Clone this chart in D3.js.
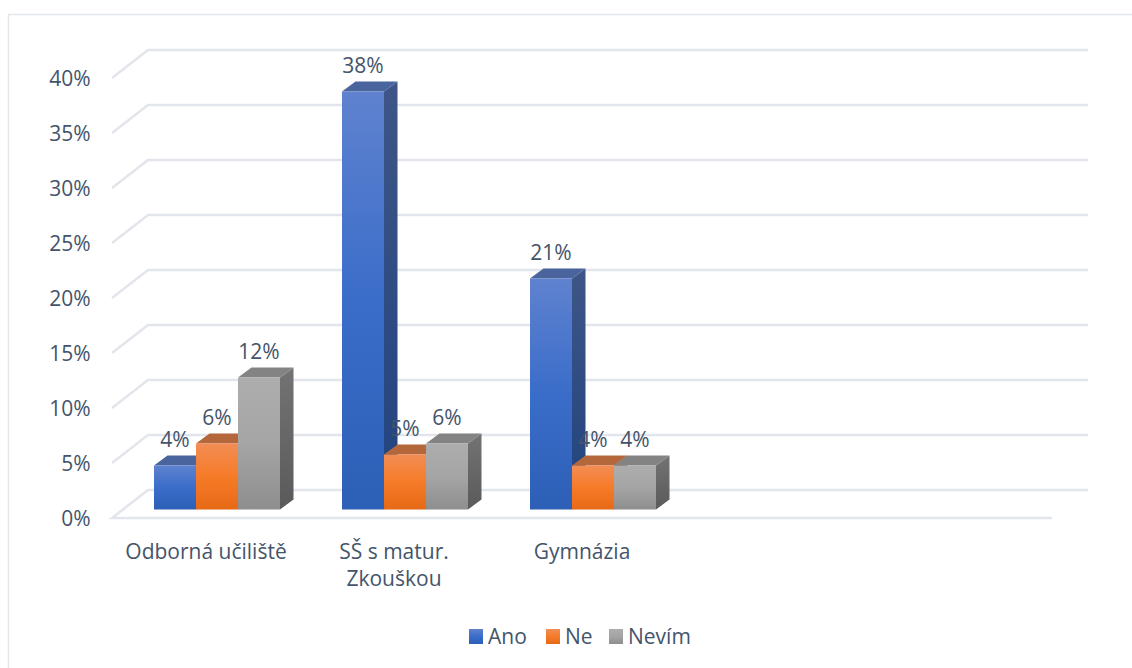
<!DOCTYPE html>
<html><head><meta charset="utf-8">
<script src="https://cdn.jsdelivr.net/npm/d3@7/dist/d3.min.js"></script>
<style>html,body{margin:0;padding:0;background:#fff}svg{display:block}text{font-family:"Open Sans",sans-serif;fill:#44546a}</style>
</head><body><div id="c"></div>
<script>
const categories = ["Odborná učiliště", "SŠ s matur. Zkouškou", "Gymnázia", "(prázdné 1)", "(prázdné 2)"];
const categoryLines = [["Odborná učiliště"], ["SŠ s matur.", "Zkouškou"], ["Gymnázia"], [], []];
const seriesNames = ["Ano", "Ne", "Nevím"];
const ano = [4, 38, 21];
const ne = [6, 5, 4];
const nevim = [12, 6, 4];
const yTicks = [0, 5, 10, 15, 20, 25, 30, 35, 40];

const W = 1132, H = 668;
const FS = "21px";
const svg = d3.select("#c").append("svg").attr("width", W).attr("height", H);
const defs = svg.append("defs");

const palettes = [
  {front:["#5f82cf","#3a6dc9","#2d5fb6"], side:["#3e5687","#20437f"], top:"#4a649e"},
  {front:["#f28d55","#f67b28","#e66a16"], side:["#8a5030","#8a5030"], top:"#b5673c"},
  {front:["#adadad","#a5a5a5","#8e8e8e"], side:["#737373","#5a5a5a"], top:"#838383"}
];
palettes.forEach((p,i)=>{
  const f = defs.append("linearGradient").attr("id","f"+i).attr("x1",0).attr("x2",0).attr("y1",0).attr("y2",1);
  p.front.forEach((c,k)=>f.append("stop").attr("offset",k/2).attr("stop-color",c));
  const s = defs.append("linearGradient").attr("id","s"+i).attr("x1",0).attr("x2",0).attr("y1",0).attr("y2",1);
  p.side.forEach((c,k)=>s.append("stop").attr("offset",k).attr("stop-color",c));
});

// frame
svg.append("path").attr("d",`M8.5,${H} V14.5 H${W}`).attr("fill","none").attr("stroke","#e3e6ec").attr("stroke-width",1.5);

const x = d3.scaleBand().domain(categories).range([112,1052]);
const y = d3.scaleLinear().domain([0,40]).range([518,78]);
const backDx = 36, backDy = -28;      // floor depth
const floorDx = 11, floorDy = -8.5;   // bars' front plane inside the floor
const barDx = 13.5, barDy = -10;      // bar depth

const grid = svg.append("g").attr("fill","none").attr("stroke","#e2e5eb").attr("stroke-width",2.5);
yTicks.forEach(t=>{
  const y0 = y(t), xl = x.range()[0], xr = x.range()[1];
  if (t === 0) {
    grid.append("path").attr("d",`M${xr},${y0} H${xl} l${backDx},${backDy} H${xr+backDx}`);
  } else {
    grid.append("path").attr("d",`M${xl},${y0} l${backDx},${backDy} H${xr+backDx}`);
  }
});

const axis = d3.axisLeft(y).tickValues(yTicks).tickFormat(d=>d+"%").tickSize(0).tickPadding(0);
const ag = svg.append("g").attr("transform","translate(90.5,1)").call(axis);
ag.select(".domain").remove();
ag.selectAll("text").style("font-size",FS).attr("dy","0.33em").attr("fill",null);

const seriesValues = [ano, ne, nevim];
const barW = 42;
const groupW = barW*seriesNames.length;
const labels = [];
categories.slice(0,3).forEach((cat,ci)=>{
  const gx = x(cat) + floorDx + (x.bandwidth()-groupW)/2;
  seriesValues.forEach((vals,si)=>{
    const v = vals[ci];
    const x0 = gx + si*barW, x1 = x0+barW;
    const yb = y(0)+floorDy, yt = y(v)+floorDy;
    const g = svg.append("g");
    g.append("path").attr("fill",`url(#s${si})`)
      .attr("d",`M${x1},${yt} l${barDx},${barDy} V${yb+barDy} L${x1},${yb} Z`);
    g.append("path").attr("fill",palettes[si].top)
      .attr("d",`M${x0},${yt} l${barDx},${barDy} H${x1+barDx} L${x1},${yt} Z`);
    g.append("rect").attr("x",x0).attr("y",yt).attr("width",barW).attr("height",yb-yt).attr("fill",`url(#f${si})`);
    labels.push({x:x0+barW/2, y:yt-18.5, t:v+"%"});
  });
});
svg.append("g").selectAll("text").data(labels).join("text")
  .attr("x",d=>d.x).attr("y",d=>d.y).attr("text-anchor","middle").style("font-size",FS).text(d=>d.t);

categories.forEach((cat,ci)=>{
  const t = svg.append("text").attr("text-anchor","middle").style("font-size",FS);
  categoryLines[ci].forEach((ln,k)=>{
    t.append("tspan").attr("x",x(cat)+x.bandwidth()/2).attr("y",559+k*27).text(ln);
  });
});

// legend
const legendX = [469, 546, 609];
seriesNames.forEach((n,i)=>{
  svg.append("rect").attr("x",legendX[i]).attr("y",629).attr("width",14).attr("height",15).attr("fill",`url(#f${i})`);
  svg.append("text").attr("x",legendX[i]+19).attr("y",644).style("font-size",FS).text(n);
});
</script></body></html>
